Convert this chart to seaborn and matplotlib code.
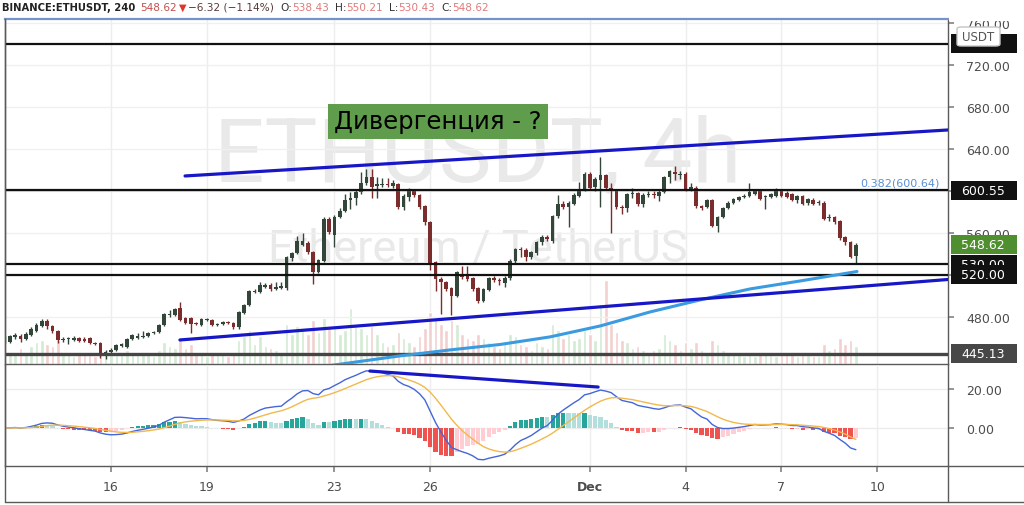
import numpy as np
import pandas as pd
import matplotlib
matplotlib.use("Agg")
import matplotlib.pyplot as plt
from matplotlib.patches import Rectangle, FancyBboxPatch
from matplotlib.lines import Line2D
import seaborn as sns

# ---------------- data (4h candles, 12 Nov 16:00 -> 9 Dec 08:00) ----------------
opens = [456, 456, 461, 462, 459, 463, 467, 471, 476.5, 471,
         467, 458, 459, 458, 460, 459, 460, 455, 455, 446,
         447, 449, 452, 451, 459, 460, 461, 462, 465, 466,
         472, 482, 482, 489, 479, 479, 474, 472, 477, 477,
         472, 473, 475, 474, 470, 484, 491, 504, 504, 509,
         510, 507, 508, 508, 536, 541, 549, 550, 542, 523,
         533, 573, 558, 575, 581, 591, 593, 599, 608, 613,
         605, 606, 607, 605, 607, 585, 594, 601, 596, 586,
         570, 532, 516, 513, 508, 500, 520, 521, 517, 508,
         495, 506, 517, 515, 512, 517, 533, 545, 544, 537,
         541, 551, 556, 552, 576, 588, 585, 588, 595, 602,
         616, 604, 610, 615, 603, 601, 585, 584, 597, 598,
         588, 596, 597, 595, 599, 613, 618, 615, 616, 602,
         603, 586, 585, 591, 567, 575, 584, 589, 591, 594,
         595.5, 597, 600, 594, 594, 595.5, 600, 598, 597, 591,
         595, 589, 591, 589, 589, 574, 575, 571, 556, 551,
         538.43]
closes = [461, 462, 463, 459, 464, 468.6, 472, 476.5, 471, 467,
          458, 459, 459.5, 460, 457, 457, 455, 454.5, 446, 447,
          449, 453, 454, 459, 462.5, 462, 462, 465, 466, 472,
          483, 483, 487.6, 477, 474.5, 473, 473.5, 478, 477.5, 472,
          473, 475, 474, 470, 484.5, 491, 505, 505, 510, 510,
          507, 509, 509.5, 537, 541, 552, 552, 542, 523, 534,
          573, 561, 575, 581, 591, 593, 599, 608, 613, 604,
          607, 607, 606, 608, 585, 595, 602, 596, 585, 570,
          531, 516, 513, 507, 500, 523, 518, 516, 507, 495,
          507, 517, 515, 514, 517, 533, 545, 544, 537, 542,
          551, 556, 554, 576, 588, 585, 589, 596, 600, 616,
          603, 611, 615, 603, 601, 585, 584, 597, 598, 588,
          596, 597, 596, 599, 613, 619, 616, 616, 602, 604,
          586, 584, 591, 567, 575, 584, 589, 592, 594, 595.5,
          598.7, 600, 592, 595.5, 597, 600.3, 595, 594, 591, 595,
          588, 592, 588, 589.5, 573, 575, 570, 555, 551, 537,
          548.62]
highs = [462, 463, 465, 464, 466, 470, 474, 478, 478, 472,
         468, 461, 461, 462, 461, 461, 461, 456, 456, 449,
         450, 454, 455, 460, 464, 465, 467, 466, 467, 473,
         484, 487, 489, 494, 480, 480, 475, 479, 479, 478,
         474, 476, 476, 475, 486, 492, 506, 507, 513, 512,
         512, 513, 513, 538, 542, 557, 560, 552, 543, 535,
         575, 575, 577, 584, 597, 599, 601, 618, 621, 621,
         613, 612, 612, 610, 608, 597, 603, 602, 597, 587,
         571, 533, 518, 514, 509, 524, 529, 529, 518, 509,
         508, 518, 519, 517, 519, 535, 546, 547, 546, 543,
         552, 558, 558, 577, 596, 590, 590, 598, 609, 618,
         618, 613, 632, 616, 608, 602, 587, 598, 603, 599,
         598, 600, 600, 601, 614, 620, 624, 619, 618, 608,
         605, 587, 592, 592, 576, 585, 590, 593, 595, 597,
         608, 601, 601, 596, 598, 603, 601, 600, 598, 596,
         596, 593, 593, 591, 590, 578, 576, 572, 557, 552,
         550.21]
lows = [455, 455, 459, 456, 458, 462, 466, 470, 469, 465,
        455, 456, 454, 457, 456, 456, 454, 453, 441, 440,
        446, 448, 451, 450, 458, 459, 460, 461, 464, 465,
        471, 480, 481, 476, 473, 465, 472, 471, 476, 471,
        471, 472, 473, 469, 469, 483, 490, 503, 503, 508,
        505, 506, 507, 506, 533, 540, 548, 540, 511, 522,
        532, 559, 547, 574, 580, 583, 587, 597, 606, 593,
        593, 604, 604, 603, 583, 582, 590, 594, 583, 568,
        525, 505, 483, 505, 482, 499, 516, 514, 505, 493,
        494, 505, 513, 510, 509, 515, 530, 537, 533, 535,
        539, 549, 552, 550, 574, 583, 566, 587, 594, 600,
        601, 600, 585, 601, 560, 583, 578, 580, 593, 586,
        585, 594, 593, 590, 598, 608, 610, 611, 600, 600,
        584, 582, 584, 566, 561, 574, 583, 588, 590, 593,
        594, 596, 591, 583, 593, 594, 594, 593, 590, 589,
        587, 587, 587, 587, 572, 571, 569, 553, 549, 536,
        530.43]
volumes = [14, 12, 10, 16, 12, 18, 22, 24, 20, 18,
           24, 12, 10, 8, 10, 9, 11, 8, 22, 14,
           10, 9, 12, 14, 10, 9, 12, 10, 8, 14,
           22, 18, 16, 26, 16, 20, 10, 12, 8, 12,
           9, 10, 8, 12, 24, 28, 34, 20, 28, 18,
           16, 14, 12, 40, 30, 38, 34, 30, 44, 32,
           46, 36, 38, 30, 34, 56, 40, 36, 30, 38,
           30, 22, 18, 20, 32, 26, 22, 18, 28, 36,
           52, 46, 40, 34, 44, 40, 30, 26, 24, 30,
           26, 22, 18, 16, 20, 30, 28, 20, 18, 14,
           22, 18, 16, 40, 34, 26, 30, 24, 26, 34,
           30, 24, 60, 84, 40, 32, 24, 22, 16, 18,
           14, 12, 14, 16, 30, 24, 20, 14, 22, 16,
           22, 14, 12, 24, 20, 14, 12, 10, 9, 8,
           10, 8, 12, 10, 9, 8, 10, 9, 10, 8,
           10, 9, 8, 8, 20, 14, 16, 26, 20, 24,
           18]

# long moving average (read points), x in days since 16 Nov
ma_days = [6.55, 9.05, 10.62, 12.19, 13.75, 15.32, 16.89, 18.45, 20.02, 21.59, 23.37]
ma_values = [432.4, 442.9, 448.6, 453.8, 461.0, 471.4, 484.8, 496.2, 506.7, 514.3, 523.3]

hline_prices = [740.0, 600.55, 530.0, 520.0, 445.13]
upper_trend_days = [2.32, 26.22]
upper_trend_prices = [614.3, 658.1]
lower_trend_days = [2.16, 26.22]
lower_trend_prices = [458.1, 515.7]
div_days = [8.11, 15.26]
div_values = [29.2, 21.0]

tick_days = [0, 3, 7, 10, 15, 18, 21, 24]
tick_labels = ["16", "19", "23", "26", "Dec", "4", "7", "10"]
price_ticks = [480, 520, 560, 600, 640, 680, 720, 760]
macd_ticks = [0, 20]

# ---------------- setup ----------------
sns.set_theme(style="white")
plt.rcParams["font.family"] = ["DejaVu Sans"]

W, H = 1024, 506
fig = plt.figure(figsize=(W / 100, H / 100), dpi=100)
fig.patch.set_facecolor("white")


def rect(x0, y0, x1, y1):
    return [x0 / W, 1 - y1 / H, (x1 - x0) / W, (y1 - y0) / H]


def fx(x):
    return x / W


def fy(y):
    return 1 - y / H


P0, P1 = 435.2, 763.8
M0, M1 = -19.5, 32.3
XL = (-3.32, 26.22)


def py(p):  # price -> pixel y
    return 20 + (P1 - p) / (P1 - P0) * 345


o = np.array(opens, float)
c = np.array(closes, float)
h = np.array(highs, float)
l = np.array(lows, float)
v = np.array(volumes, float)
n = len(c)
days = (np.arange(n) - (n - 1)) / 6.0 + 23.0 + 1.0 / 3.0

axv = fig.add_axes(rect(5, 20, 948, 365))
ax = fig.add_axes(rect(5, 20, 948, 365), sharex=axv)
axm = fig.add_axes(rect(5, 366, 948, 467), sharex=axv)
axv.set_zorder(-1)
ax.patch.set_visible(False)
axv.patch.set_visible(False)
axm.patch.set_visible(False)

# grid
for d in tick_days:
    axv.axvline(d, color="#ededed", lw=1, zorder=0)
    axm.axvline(d, color="#ededed", lw=1, zorder=0)
for p in price_ticks:
    ax.axhline(p, color="#f0f0f0", lw=1, zorder=0)
for m in macd_ticks:
    axm.axhline(m, color="#ececec", lw=1, zorder=0)

# volume
up = c >= o
vcol = np.where(up, "#d3ead3", "#f3d0d0")
axv.bar(days, v, width=0.11, color=vcol, zorder=1)
axv.set_ylim(0, 345)
axv.axis("off")

# candles
body_col = np.where(up, "#33463a", "#7b2c2c")
ax.vlines(days, l, h, colors=body_col, lw=1, zorder=3)
bot = np.minimum(o, c)
hgt = np.maximum(np.abs(c - o), 0.8)
ax.bar(days, hgt, bottom=bot, width=0.115, color=body_col, zorder=4, linewidth=0)

# horizontal levels
ax.axhline(600.64, color="#6a9fd8", lw=1, zorder=5)
for p in hline_prices:
    if p == 445.13:
        ax.axhline(p, color="#454545", lw=2.4, zorder=5)
    else:
        ax.axhline(p, color="#111111", lw=1.6, zorder=5)

# trend lines and moving average
sns.lineplot(x=ma_days, y=ma_values, ax=ax, color="#3a9be0", linewidth=2.2, zorder=6)
sns.lineplot(x=upper_trend_days, y=upper_trend_prices, ax=ax, color="#1717c8", linewidth=2.3, zorder=7)
sns.lineplot(x=lower_trend_days, y=lower_trend_prices, ax=ax, color="#1717c8", linewidth=2.3, zorder=7)

ax.set_ylim(P0, P1)
ax.set_xlim(*XL)
ax.set_xlabel("")
ax.set_ylabel("")

# MACD (12, 26, 9) of the closes
s = pd.Series(c)
macd = s.ewm(span=12, adjust=False).mean() - s.ewm(span=26, adjust=False).mean()
signal = macd.ewm(span=9, adjust=False).mean()
hist = (macd - signal).values
prev = np.concatenate([[hist[0]], hist[:-1]])
hcol = np.where(hist >= 0,
                np.where(hist >= prev, "#26a69a", "#b2dfdb"),
                np.where(hist < prev, "#ef5350", "#ffcdd2"))
axm.bar(days, hist, width=0.13, color=hcol, zorder=2, linewidth=0)
sns.lineplot(x=days, y=macd.values, ax=axm, color="#4466d8", linewidth=1.0, zorder=3)
sns.lineplot(x=days, y=signal.values, ax=axm, color="#f2b84b", linewidth=1.0, zorder=3)
sns.lineplot(x=div_days, y=div_values, ax=axm, color="#1717c8", linewidth=2.3, zorder=4)
axm.set_ylim(M0, M1)
axm.set_xlim(*XL)
axm.set_ylabel("")

# axes styling
for a in (ax, axm):
    a.yaxis.tick_right()
    a.tick_params(axis="y", length=4, pad=9, labelsize=9, colors="#888888", labelcolor="#4d4d4d", right=True, left=False)
    for sp in a.spines.values():
        sp.set_color("#5a5a5a")
        sp.set_linewidth(1)
ax.set_yticks(price_ticks)
# labels at 520 and 600 are hidden under the level boxes in the original
ax.set_yticklabels(["" if p in (520, 600) else f"{p:.2f}" for p in price_ticks])
axm.set_yticks(macd_ticks)
axm.set_yticklabels([f"{m:.2f}" for m in macd_ticks])
ax.tick_params(axis="x", bottom=False, labelbottom=False)
ax.spines["top"].set_color("#7393c9")
ax.spines["top"].set_linewidth(1.6)
axm.spines["top"].set_visible(False)
axm.set_xticks(tick_days)
axm.set_xticklabels(tick_labels)
axm.tick_params(axis="x", length=4, pad=6, labelsize=9, colors="#888888", labelcolor="#4d4d4d", bottom=True)
for lab in axm.get_xticklabels():
    if lab.get_text() == "Dec":
        lab.set_fontweight("bold")

# frame lines
fig.add_artist(Line2D([fx(5), fx(5)], [fy(20), fy(503)], transform=fig.transFigure, color="#5a5a5a", lw=1))
fig.add_artist(Line2D([fx(5), fx(1024)], [fy(503), fy(503)], transform=fig.transFigure, color="#5a5a5a", lw=1))
fig.add_artist(Line2D([fx(948), fx(948)], [fy(467), fy(503)], transform=fig.transFigure, color="#5a5a5a", lw=1))
fig.add_artist(Line2D([fx(948), fx(1024)], [fy(467), fy(467)], transform=fig.transFigure, color="#5a5a5a", lw=1))

# cover for the clipped top label
fig.patches.append(Rectangle((fx(949), fy(22)), (1024 - 949) / W, 22 / H, transform=fig.transFigure,
                             fc="white", ec="none", zorder=1))


# price labels on the right axis
def price_label(ypx, text, fc, z):
    fig.patches.append(Rectangle((fx(951), fy(ypx + 9.5)), (1017 - 951) / W, 19 / H,
                                 transform=fig.transFigure, fc=fc, ec="none", zorder=z))
    if text:
        fig.text(fx(961), fy(ypx), text, color="white", fontsize=9, va="center", ha="left", zorder=z + 0.05)


price_label(py(740.0), "", "#111111", 1.1)
price_label(py(600.55), "600.55", "#111111", 1.2)
price_label(py(530.0), "530.00", "#111111", 1.3)
price_label(py(520.0), "520.00", "#111111", 1.4)
price_label(py(548.62), "548.62", "#4f8f2f", 1.5)
price_label(py(445.13), "445.13", "#474747", 1.6)

fig.patches.append(FancyBboxPatch((fx(957), fy(47)), (1000 - 957) / W, 19 / H,
                                  boxstyle="round,pad=0,rounding_size=0.004", transform=fig.transFigure,
                                  fc="white", ec="#c4c4c4", lw=1, zorder=2))
fig.text(fx(978.5), fy(37.5), "USDT", color="#555555", fontsize=8.5, ha="center", va="center", zorder=2.1)

# watermark
fig.text(fx(478), fy(182), "ETHUSDT, 4h", fontsize=64, family="Roboto", color="#e9e9e9",
         ha="center", va="baseline", zorder=-2)
fig.text(fx(478), fy(261), "Ethereum / TetherUS", fontsize=32.5, family="Roboto", color="#e9e9e9",
         ha="center", va="baseline", zorder=-2)

# annotation box
fig.patches.append(Rectangle((fx(328), fy(140)), (548 - 328) / W, 35 / H, transform=fig.transFigure,
                             fc="#5f9c4c", ec="none", zorder=3))
fig.text(fx(438), fy(122.5), "Дивергенция - ?", fontsize=17.5, color="black",
         ha="center", va="center", zorder=3.1)

fig.text(fx(940), fy(184), "0.382(600.64)", fontsize=8, color="#5b8fd6", ha="right", va="center", zorder=3)

# header: pieces placed one after another
renderer = fig.canvas.get_renderer()
hy = fy(8)
pieces = [("BINANCE:ETHUSDT, 240", "#222222", "bold", 7.2, 5),
          ("548.62", "#c0504d", "normal", 7.6, 2),
          ("\u25bc", "#e0352b", "normal", 7.0, 2),
          ("\u22126.32 (\u22121.14%)", "#5a3a3a", "normal", 7.6, 6),
          ("O:", "#333333", "normal", 7.6, 0), ("538.43", "#e07a7a", "normal", 7.6, 6),
          ("H:", "#333333", "normal", 7.6, 0), ("550.21", "#e07a7a", "normal", 7.6, 6),
          ("L:", "#333333", "normal", 7.6, 0), ("530.43", "#e07a7a", "normal", 7.6, 6),
          ("C:", "#333333", "normal", 7.6, 0), ("548.62", "#e07a7a", "normal", 7.6, 0)]
xcur = 2.0
for txt, col, wt, fs, gap in pieces:
    t = fig.text(fx(xcur), hy, txt, fontsize=fs, fontweight=wt, color=col, va="center", ha="left")
    bb = t.get_window_extent(renderer=renderer)
    xcur += bb.width + gap

fig.savefig("out.png", dpi=100, facecolor="white")
